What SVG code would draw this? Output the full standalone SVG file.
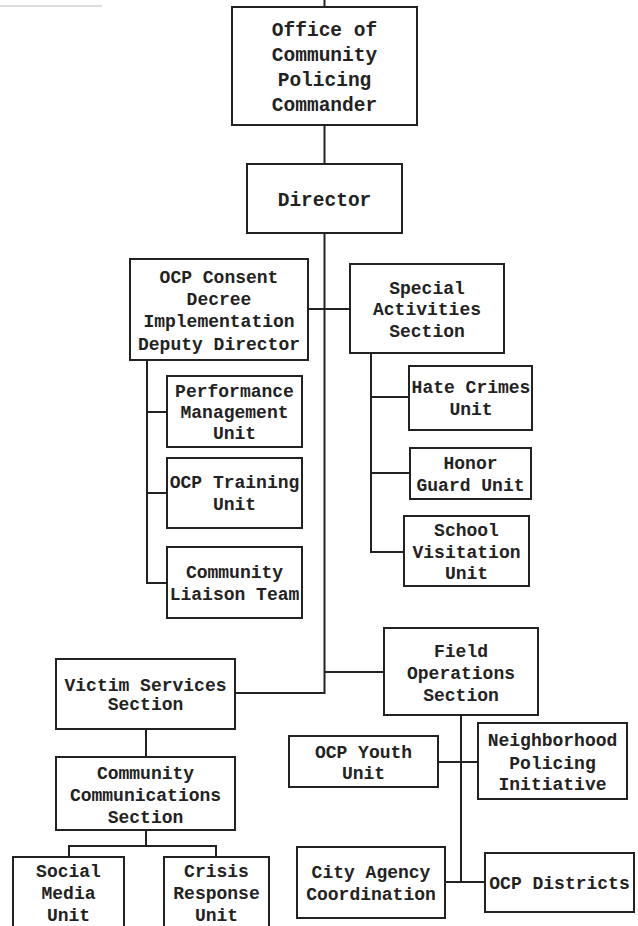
<svg xmlns="http://www.w3.org/2000/svg" width="638" height="926" viewBox="0 0 638 926">
<style>
rect{fill:#fff;stroke:#222;stroke-width:2}
#connectors path{fill:none;stroke:#222;stroke-width:2}
text{font-family:"Liberation Mono","Courier New",monospace;font-weight:bold;font-size:18px;fill:#222;text-anchor:middle}
.big{font-size:19.5px}
</style>
<rect x="0" y="0" width="638" height="926" style="stroke:none"/>
<line x1="0" y1="6" x2="102" y2="6" stroke="#bbb" stroke-width="1"/>
<g id="connectors">
<path d="M324.5 0V7M324.5 125V164M324.5 233V693H235M324.5 672H384M308 309H350"/>
<path d="M147 360V583H167M147 412H167M147 493H167"/>
<path d="M371 353V552H404M371 397H409M371 473H410"/>
<path d="M461 715V882H445M461 882H485M438 762H478"/>
<path d="M146 729V757M146 830V846M69 857V846H216V857"/>
</g>
<g id="commander"><rect x="232" y="7" width="185" height="118"/><text class="big" x="324.5" y="36">Office of</text><text class="big" x="324.5" y="61">Community</text><text class="big" x="324.5" y="86">Policing</text><text class="big" x="324.5" y="111">Commander</text></g>
<g id="director"><rect x="247" y="164" width="155" height="69"/><text class="big" x="324.5" y="206">Director</text></g>
<g id="deputy"><rect x="130" y="259" width="178" height="101"/><text x="219" y="283">OCP Consent</text><text x="219" y="305">Decree</text><text x="219" y="327">Implementation</text><text x="219" y="350">Deputy Director</text></g>
<g id="special"><rect x="350" y="264" width="154" height="89"/><text x="427" y="294">Special</text><text x="427" y="315">Activities</text><text x="427" y="337">Section</text></g>
<g id="performance"><rect x="167" y="376" width="135" height="71"/><text x="234.5" y="397">Performance</text><text x="234.5" y="418">Management</text><text x="234.5" y="439">Unit</text></g>
<g id="training"><rect x="167" y="458" width="135" height="70"/><text x="234.5" y="488">OCP Training</text><text x="234.5" y="510">Unit</text></g>
<g id="liaison"><rect x="167" y="547" width="135" height="71"/><text x="234.5" y="578">Community</text><text x="234.5" y="600">Liaison Team</text></g>
<g id="hate"><rect x="409" y="366" width="123" height="64"/><text x="471" y="393">Hate Crimes</text><text x="471" y="415">Unit</text></g>
<g id="honor"><rect x="410" y="448" width="121" height="51"/><text x="470.5" y="469">Honor</text><text x="470.5" y="491">Guard Unit</text></g>
<g id="school"><rect x="404" y="516" width="125" height="70"/><text x="466.5" y="536">School</text><text x="466.5" y="558">Visitation</text><text x="466.5" y="579">Unit</text></g>
<g id="victim"><rect x="56" y="659" width="179" height="70"/><text x="145.5" y="691">Victim Services</text><text x="145.5" y="710">Section</text></g>
<g id="field"><rect x="384" y="628" width="154" height="87"/><text x="461" y="657">Field</text><text x="461" y="679">Operations</text><text x="461" y="701">Section</text></g>
<g id="comms"><rect x="56" y="757" width="179" height="73"/><text x="145.5" y="779">Community</text><text x="145.5" y="801">Communications</text><text x="145.5" y="823">Section</text></g>
<g id="youth"><rect x="289" y="736" width="149" height="51"/><text x="363.5" y="758">OCP Youth</text><text x="363.5" y="779">Unit</text></g>
<g id="neighborhood"><rect x="478" y="723" width="149" height="76"/><text x="552.5" y="746">Neighborhood</text><text x="552.5" y="769">Policing</text><text x="552.5" y="790">Initiative</text></g>
<g id="city"><rect x="297" y="847" width="148" height="71"/><text x="371" y="878">City Agency</text><text x="371" y="900">Coordination</text></g>
<g id="districts"><rect x="485" y="853" width="149" height="59"/><text x="559.5" y="889">OCP Districts</text></g>
<g id="social"><rect x="13" y="857" width="111" height="80"/><text x="68.5" y="877">Social</text><text x="68.5" y="899">Media</text><text x="68.5" y="921">Unit</text></g>
<g id="crisis"><rect x="164" y="857" width="105" height="80"/><text x="216.5" y="877">Crisis</text><text x="216.5" y="899">Response</text><text x="216.5" y="921">Unit</text></g>
</svg>
